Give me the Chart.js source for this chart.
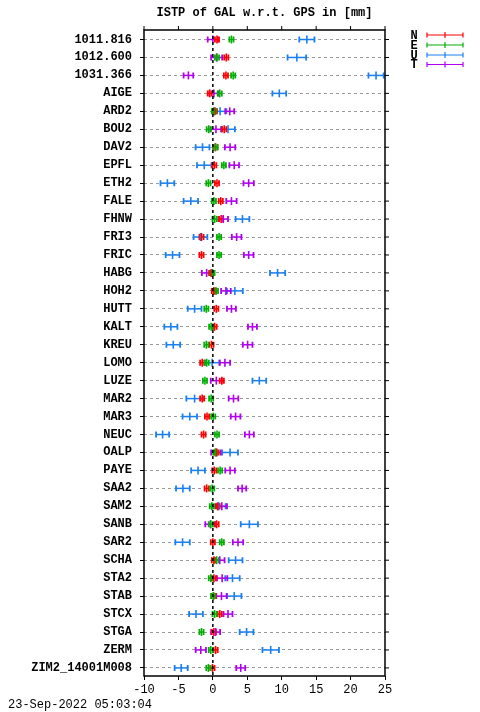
<!DOCTYPE html>
<html>
<head>
<meta charset="utf-8">
<script src="https://cdn.jsdelivr.net/npm/chart.js@4/dist/chart.umd.min.js"></script>
<style>
  html, body { margin: 0; padding: 0; background: #fff; }
  #c { display: block; }
</style>
</head>
<body>
<canvas id="c" width="480" height="712"></canvas>
<script>
// stations, top to bottom
var stations = ['1011.816', '1012.600', '1031.366', 'AIGE', 'ARD2', 'BOU2', 'DAV2', 'EPFL', 'ETH2',
  'FALE', 'FHNW', 'FRI3', 'FRIC', 'HABG', 'HOH2', 'HUTT', 'KALT', 'KREU', 'LOMO', 'LUZE', 'MAR2',
  'MAR3', 'NEUC', 'OALP', 'PAYE', 'SAA2', 'SAM2', 'SANB', 'SAR2', 'SCHA', 'STA2', 'STAB', 'STCX',
  'STGA', 'ZERM', 'ZIM2_14001M008'];

// offsets [mm] and their errors, one entry per station
var nVal = [0.6, 1.95, 1.9, -0.45, 0.3, 1.65, 0.35, 0.2, 0.6, 1.15, 1.2, -1.65, -1.65, -0.25, 0.15, 0.5, 0.25, -0.2,
  -1.55, 1.3, -1.55, -0.85, -1.35, 0.55, 0.2, -0.9, 0.7, 0.55, 0.0, 0.15, 0.15, 0.1, 1.0, 0.15, 0.4, -0.05];
var nErr = [0.3, 0.3, 0.3, 0.3, 0.3, 0.3, 0.3, 0.3, 0.3, 0.3, 0.3, 0.3, 0.3, 0.3, 0.3, 0.3, 0.3, 0.3,
  0.3, 0.3, 0.3, 0.3, 0.3, 0.3, 0.3, 0.3, 0.3, 0.3, 0.3, 0.3, 0.3, 0.3, 0.3, 0.3, 0.3, 0.3];
var eVal = [2.7, 0.6, 2.95, 1.0, 0.15, -0.6, 0.4, 1.6, -0.65, 0.15, 0.25, 0.9, 0.9, -0.05, 0.45, -0.95, -0.25, -0.95,
  -0.9, -1.15, -0.25, 0.05, 0.6, 0.35, 1.05, -0.1, -0.15, -0.3, 1.3, 0.55, -0.3, 0.05, 0.25, -1.65, -0.3, -0.65];
var eErr = [0.3, 0.3, 0.3, 0.3, 0.3, 0.3, 0.3, 0.3, 0.3, 0.3, 0.3, 0.3, 0.3, 0.3, 0.3, 0.3, 0.3, 0.3,
  0.3, 0.3, 0.3, 0.3, 0.3, 0.3, 0.3, 0.3, 0.3, 0.3, 0.3, 0.3, 0.3, 0.3, 0.3, 0.3, 0.3, 0.3];
var uVal = [13.65, 12.2, 23.7, 9.65, 1.05, 2.2, -1.5, -1.25, -6.6, -3.2, 4.3, -1.8, -5.85, 9.4, 3.2, -2.65, -6.1, -5.75,
  -0.1, 6.75, -2.65, -3.35, -7.3, 2.5, -2.15, -4.35, 0.85, 5.3, -4.4, 3.3, 2.85, 3.1, -2.45, 4.9, 8.4, -4.6];
var uErr = [1.1, 1.35, 1.1, 1.0, 0.9, 1.0, 1.0, 1.05, 1.0, 1.05, 1.0, 1.0, 1.0, 1.1, 1.15, 1.0, 0.95, 1.0,
  1.05, 1.0, 1.2, 1.05, 0.95, 1.15, 1.0, 1.0, 1.0, 1.25, 1.05, 1.0, 1.05, 1.05, 1.0, 1.0, 1.2, 0.95];
var tVal = [0.0, 0.55, -3.55, 0.15, 2.45, 0.45, 2.5, 3.1, 5.2, 2.7, 1.5, 3.45, 5.2, -0.9, 1.9, 2.7, 5.75, 5.05,
  1.75, 0.5, 3.0, 3.3, 5.3, 0.45, 2.5, 4.25, 1.3, -0.35, 3.65, 1.0, 1.35, 1.25, 2.2, 0.4, -1.75, 4.05];
var tErr = [0.75, 0.8, 0.7, 0.65, 0.65, 0.8, 0.75, 0.7, 0.75, 0.75, 0.7, 0.7, 0.7, 0.7, 0.7, 0.65, 0.65, 0.7,
  0.75, 0.8, 0.7, 0.7, 0.65, 0.7, 0.7, 0.6, 0.75, 0.75, 0.75, 0.7, 0.75, 0.75, 0.65, 0.65, 0.75, 0.65];

var xTicks = [-10, -5, 0, 5, 10, 15, 20, 25];
var titleText = 'ISTP of GAL w.r.t. GPS in [mm]';
var dateText = '23-Sep-2022 05:03:04';

var MONO = '"Liberation Mono", "DejaVu Sans Mono", monospace';

var series = [
  { key: 'N', vals: nVal, errs: nErr, color: '#ff0000', order: 2 },
  { key: 'E', vals: eVal, errs: eErr, color: '#00b000', order: 1 },
  { key: 'U', vals: uVal, errs: uErr, color: '#1a7ff0', order: 4 },
  { key: 'T', vals: tVal, errs: tErr, color: '#b000f0', order: 3 }
];

function toPoints(vals) {
  return vals.map(function(v, i) { return { x: v, y: i }; });
}

// horizontal error bars with end caps, drawn underneath the centre ticks
var errorBars = {
  id: 'errorBars',
  beforeDatasetsDraw: function(chart) {
    var ctx = chart.ctx, xs = chart.scales.x, ys = chart.scales.y;
    var drawOrder = series.slice().sort(function(a, b) { return b.order - a.order; });
    ctx.save();
    drawOrder.forEach(function(s) {
      ctx.strokeStyle = s.color;
      s.vals.forEach(function(v, i) {
        var y = ys.getPixelForValue(i);
        var x1 = xs.getPixelForValue(v - s.errs[i]);
        var x2 = xs.getPixelForValue(v + s.errs[i]);
        ctx.lineWidth = 1.5;
        ctx.beginPath();
        ctx.moveTo(x1, y); ctx.lineTo(x2, y);
        ctx.stroke();
        ctx.lineWidth = 1.8;
        ctx.beginPath();
        ctx.moveTo(x1, y - 3); ctx.lineTo(x1, y + 3);
        ctx.moveTo(x2, y - 3); ctx.lineTo(x2, y + 3);
        ctx.stroke();
      });
    });
    ctx.restore();
  },
  afterDatasetsDraw: function(chart) {
    // dotted zero line
    var ctx = chart.ctx, a = chart.chartArea;
    var x0 = chart.scales.x.getPixelForValue(0);
    ctx.save();
    ctx.strokeStyle = '#000';
    ctx.lineWidth = 1.5;
    ctx.setLineDash([3, 3]);
    ctx.beginPath();
    ctx.moveTo(x0, a.top); ctx.lineTo(x0, a.bottom);
    ctx.stroke();
    ctx.restore();
  },
  afterDraw: function(chart) {
    var ctx = chart.ctx, a = chart.chartArea, xs = chart.scales.x, ys = chart.scales.y;
    ctx.save();
    // frame
    ctx.strokeStyle = '#000';
    ctx.lineWidth = 1.5;
    ctx.strokeRect(a.left, a.top, a.right - a.left, a.bottom - a.top);
    // mirrored ticks on top and right
    ctx.lineWidth = 1;
    ctx.beginPath();
    xTicks.forEach(function(t) {
      var x = xs.getPixelForValue(t);
      ctx.moveTo(x, a.top); ctx.lineTo(x, a.top - 4);
    });
    stations.forEach(function(s, i) {
      var y = ys.getPixelForValue(i);
      ctx.moveTo(a.right, y); ctx.lineTo(a.right + 4, y);
    });
    ctx.stroke();

    // title and time stamp
    ctx.fillStyle = '#000';
    ctx.font = 'bold 12px ' + MONO;
    ctx.textAlign = 'center';
    ctx.textBaseline = 'middle';
    ctx.fillText(titleText, (a.left + a.right) / 2, 13);
    ctx.font = '12px ' + MONO;
    ctx.textAlign = 'left';
    ctx.fillText(dateText, 8, 705);

    // legend
    var lx1 = 427, lx2 = 463, ly = [35, 45, 55, 64.5];
    series.forEach(function(s, k) {
      var y = ly[k];
      ctx.fillStyle = '#000';
      ctx.font = 'bold 12px ' + MONO;
      ctx.textAlign = 'center';
      ctx.fillText(s.key, 414, y + 0.5);
      ctx.strokeStyle = s.color;
      ctx.lineWidth = 1.2;
      ctx.beginPath();
      ctx.moveTo(lx1, y); ctx.lineTo(lx2, y);
      ctx.moveTo(lx1, y - 2.5); ctx.lineTo(lx1, y + 2.5);
      ctx.moveTo(lx2, y - 2.5); ctx.lineTo(lx2, y + 2.5);
      ctx.moveTo((lx1 + lx2) / 2, y - 3); ctx.lineTo((lx1 + lx2) / 2, y + 3);
      ctx.stroke();
    });
    ctx.restore();
  }
};

new Chart(document.getElementById('c'), {
  type: 'scatter',
  data: {
    datasets: series.map(function(s) {
      return {
        label: s.key,
        data: toPoints(s.vals),
        order: s.order,
        pointStyle: 'line',
        rotation: 90,
        radius: 4,
        hoverRadius: 4,
        borderWidth: 1.6,
        borderColor: s.color,
        backgroundColor: s.color
      };
    })
  },
  options: {
    responsive: false,
    animation: false,
    events: [],
    layout: { padding: { top: 30, right: 95, bottom: 0, left: 0 } },
    plugins: { legend: { display: false }, title: { display: false }, tooltip: { enabled: false } },
    scales: {
      x: {
        type: 'linear',
        position: 'bottom',
        min: -10,
        max: 25,
        afterBuildTicks: function(scale) { scale.ticks = xTicks.map(function(v) { return { value: v }; }); },
        afterFit: function(scale) { scale.height = 36; },
        ticks: { color: '#000', font: { family: MONO, size: 12 }, padding: 3, maxRotation: 0 },
        grid: { drawOnChartArea: false, drawTicks: true, tickLength: 4, tickColor: '#000', tickWidth: 1 },
        border: { display: false }
      },
      y: {
        type: 'linear',
        reverse: true,
        min: -0.53,
        max: 35.45,
        afterBuildTicks: function(scale) { scale.ticks = stations.map(function(s, i) { return { value: i }; }); },
        afterFit: function(scale) { scale.width = 144; },
        ticks: {
          color: '#000',
          font: { family: MONO, size: 12, weight: 'bold' },
          padding: 8,
          autoSkip: false,
          callback: function(v) { return stations[v]; }
        },
        grid: {
          color: '#9a9a9a',
          lineWidth: 1,
          drawTicks: true,
          tickLength: 4,
          tickColor: '#000',
          tickWidth: 1,
          tickBorderDash: []
        },
        border: { display: false, dash: [3, 3] }
      }
    }
  },
  plugins: [errorBars]
});
</script>
</body>
</html>
